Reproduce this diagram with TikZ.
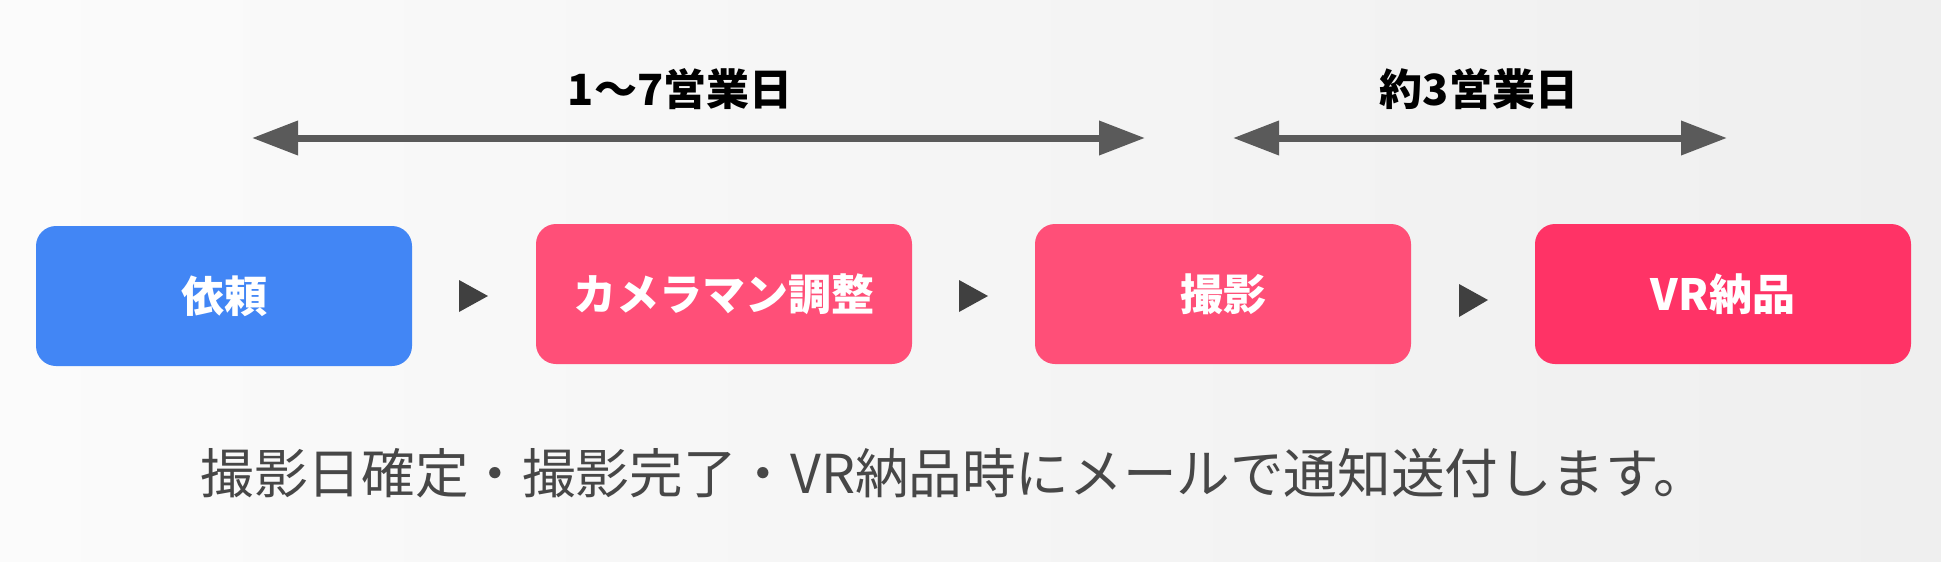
\documentclass[tikz,border=0pt]{standalone}
\usepackage{fontspec}
\setmainfont{Noto Sans CJK JP}
\usetikzlibrary{arrows.meta}
\definecolor{bgA}{HTML}{FBFBFB}
\definecolor{bgB}{HTML}{EFEFEF}
\definecolor{blueBox}{HTML}{4286F5}
\definecolor{pinkBox}{HTML}{FF4F78}
\definecolor{redBox}{HTML}{FF3366}
\definecolor{arrowGray}{HTML}{5A5A5A}
\definecolor{triGray}{HTML}{404040}
\definecolor{noteGray}{HTML}{474747}
\begin{document}
\begin{tikzpicture}[x=1pt,y=-1pt,
  stepbox/.style={rounded corners=20pt, minimum width=376pt, minimum height=140pt,
    inner sep=0pt, text=white, font=\fontsize{43}{50}\selectfont\bfseries},
  spanlabel/.style={inner sep=0pt, text=black, font=\fontsize{43}{50}\selectfont\bfseries},
  spanarrow/.style={draw=arrowGray, line width=7pt,
    {Triangle[length=46pt,width=33pt]}-{Triangle[length=46pt,width=33pt]}},
  tri/.style={fill=triGray},
  note/.style={inner sep=0pt, text=noteGray, font=\fontsize{53.6}{62}\selectfont}]
\shade[left color=bgA, right color=bgB] (0,0) rectangle (1941,562);
\useasboundingbox (0,0) rectangle (1941,562);

% step boxes
\node[stepbox, fill=blueBox] (irai) at (224,296) {依頼};
\node[stepbox, fill=pinkBox] (chosei) at (724,294) {カメラマン調整};
\node[stepbox, fill=pinkBox] (satsuei) at (1223,294) {撮影};
\node[stepbox, fill=redBox] (nohin) at (1723,294) {VR納品};

% small flow triangles
\fill[tri] (459,280) -- (488,296) -- (459,312) -- cycle;
\fill[tri] (959,280) -- (988,296) -- (959,312) -- cycle;
\fill[tri] (1459,284) -- (1488,300) -- (1459,317) -- cycle;

% span arrows
\coordinate (a1s) at (252,138);
\coordinate (a1e) at (1145,138);
\coordinate (a2s) at (1233,138);
\coordinate (a2e) at (1727,138);
\draw[spanarrow] (a1s) -- (a1e);
\draw[spanarrow] (a2s) -- (a2e);

% span labels
\node[spanlabel] (lab1) at (680,89) {1〜7営業日};
\node[spanlabel] (lab2) at (1479,89) {約3営業日};

% note
\node[note] (note) at (954,473) {撮影日確定・撮影完了・VR納品時にメールで通知送付します。};
\end{tikzpicture}
\end{document}
